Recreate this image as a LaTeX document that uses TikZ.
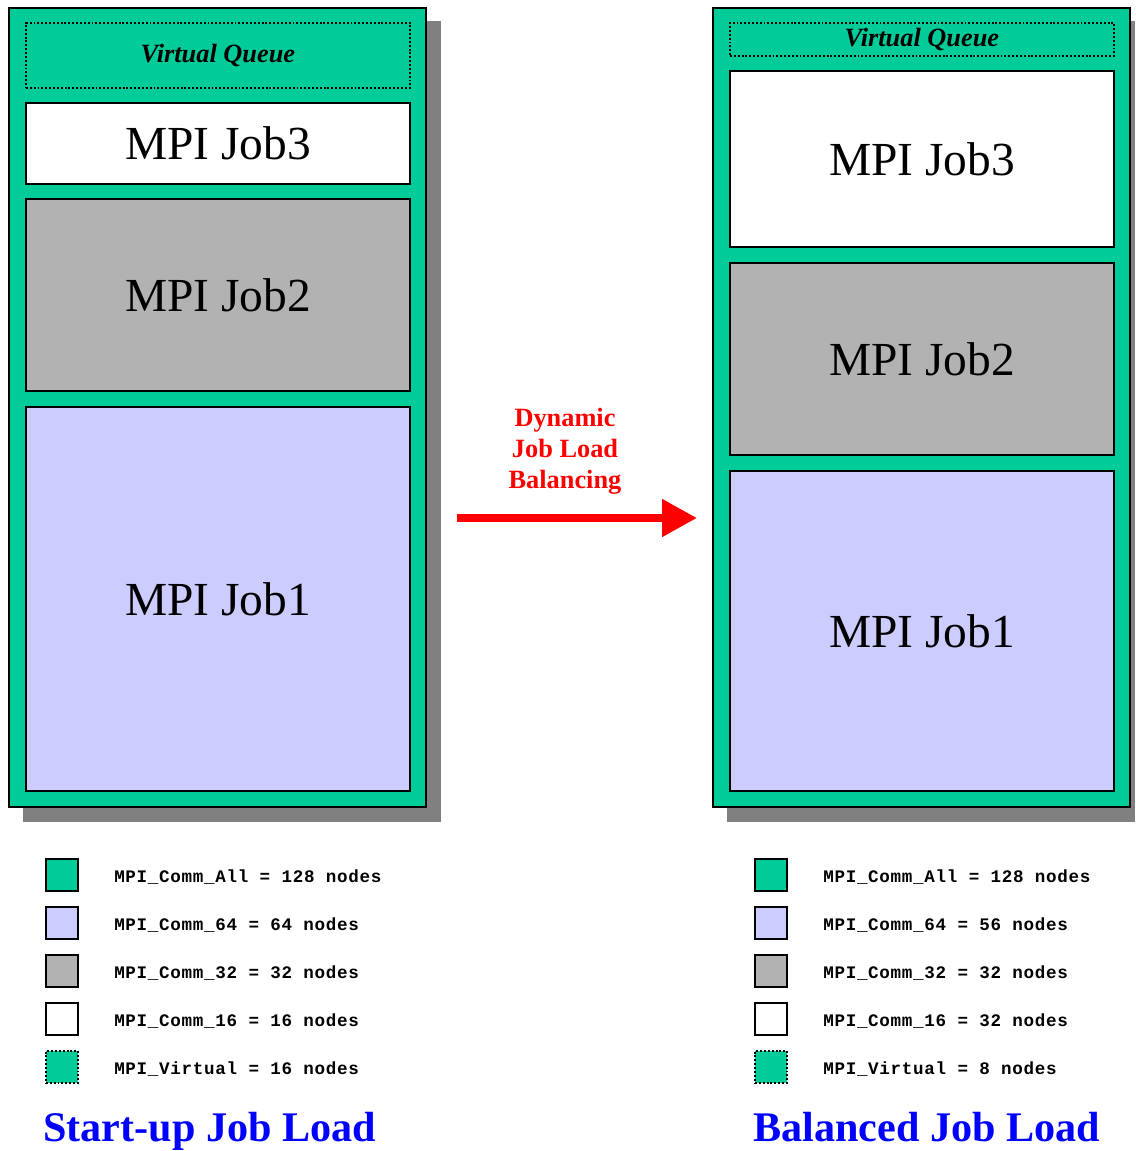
\documentclass[tikz,border=0pt]{standalone}
\usepackage{fontspec}
\setmainfont{Liberation Serif}
\newfontfamily\legendfont[LetterSpace=4]{Liberation Mono}
\usetikzlibrary{arrows.meta,positioning}
\definecolor{queuegreen}{RGB}{0,204,153}
\definecolor{jobgray}{RGB}{178,178,178}
\definecolor{joblilac}{RGB}{204,204,255}
\definecolor{shadowgray}{RGB}{128,128,128}

\begin{document}
\begin{tikzpicture}[x=0.02cm,y=-0.02cm,
		panel/.style={draw=black,line width=1.1pt,fill=queuegreen,anchor=north west,inner sep=0pt,minimum width=8.34cm,minimum height=15.98cm},
		jobbox/.style={draw=black,line width=1.1pt,anchor=north west,inner sep=0pt,minimum width=7.68cm,font=\fontsize{27}{30}\selectfont},
		vqbox/.style={draw=black,line width=1.1pt,dash pattern=on 1.1pt off 1.1pt,fill=queuegreen,anchor=north west,inner sep=0pt,minimum width=7.68cm,font=\fontsize{15}{17}\selectfont\bfseries\itshape},
		keybox/.style={draw=black,line width=1.1pt,anchor=north west,inner sep=0pt,minimum size=0.64cm},
		keytext/.style={anchor=west,inner sep=0pt,yshift=-0.05cm,font=\fontsize{10}{12}\selectfont\legendfont\bfseries},
		loadtitle/.style={anchor=base west,inner sep=0pt,text=blue,font=\fontsize{24}{28}\selectfont\bfseries}]
			\useasboundingbox (0,0) rectangle (1135,1151);
			% start-up job load
			\fill [shadowgray] (23,21) rectangle (441,822);
			\node [panel] (lpanel) at (8,7) {};
			\node [vqbox,minimum height=1.3cm] (lvq) at (25,22) {Virtual Queue};
			\node [jobbox,fill=white,minimum height=1.62cm] (ljob3) at (25,102) {MPI Job3};
			\node [jobbox,fill=jobgray,minimum height=3.84cm] (ljob2) at (25,198) {MPI Job2};
			\node [jobbox,fill=joblilac,minimum height=7.68cm] (ljob1) at (25,406) {MPI Job1};
			% balanced job load
			\fill [shadowgray] (727,21) rectangle (1135,822);
			\node [panel] (rpanel) at (712,7) {};
			\node [vqbox,minimum height=0.66cm] (rvq) at (729,22) {Virtual Queue};
			\node [jobbox,fill=white,minimum height=3.52cm] (rjob3) at (729,70) {MPI Job3};
			\node [jobbox,fill=jobgray,minimum height=3.84cm] (rjob2) at (729,262) {MPI Job2};
			\node [jobbox,fill=joblilac,minimum height=6.4cm] (rjob1) at (729,470) {MPI Job1};
			% balancing arrow
			\node [align=center,inner sep=0pt,text=red,font=\fontsize{15}{17.6}\selectfont\bfseries] (balance) at (565,451) {Dynamic\\Job Load\\Balancing};
			\coordinate (astart) at (457,518);
			\coordinate (aend) at (697,518);
			\draw [red,line width=4.5pt,-{Triangle[length=0.7cm,width=0.72cm]}] (astart) -- (aend);
			% legends
			\node [keybox,fill=queuegreen] (lkeyall) at (45,858) {};
			\node [keybox,fill=joblilac] (lkey64) at (45,906) {};
			\node [keybox,fill=jobgray] (lkey32) at (45,954) {};
			\node [keybox,fill=white] (lkey16) at (45,1002) {};
			\node [keybox,fill=queuegreen,dash pattern=on 1.1pt off 1.1pt] (lkeyvirt) at (45,1050) {};
			\node [keytext,right=0.7cm of lkeyall] (ltextall) {MPI\_Comm\_All = 128 nodes};
			\node [keytext,right=0.7cm of lkey64] (ltext64) {MPI\_Comm\_64 = 64 nodes};
			\node [keytext,right=0.7cm of lkey32] (ltext32) {MPI\_Comm\_32 = 32 nodes};
			\node [keytext,right=0.7cm of lkey16] (ltext16) {MPI\_Comm\_16 = 16 nodes};
			\node [keytext,right=0.7cm of lkeyvirt] (ltextvirt) {MPI\_Virtual = 16 nodes};
			\node [keybox,fill=queuegreen] (rkeyall) at (754,858) {};
			\node [keybox,fill=joblilac] (rkey64) at (754,906) {};
			\node [keybox,fill=jobgray] (rkey32) at (754,954) {};
			\node [keybox,fill=white] (rkey16) at (754,1002) {};
			\node [keybox,fill=queuegreen,dash pattern=on 1.1pt off 1.1pt] (rkeyvirt) at (754,1050) {};
			\node [keytext,right=0.7cm of rkeyall] (rtextall) {MPI\_Comm\_All = 128 nodes};
			\node [keytext,right=0.7cm of rkey64] (rtext64) {MPI\_Comm\_64 = 56 nodes};
			\node [keytext,right=0.7cm of rkey32] (rtext32) {MPI\_Comm\_32 = 32 nodes};
			\node [keytext,right=0.7cm of rkey16] (rtext16) {MPI\_Comm\_16 = 32 nodes};
			\node [keytext,right=0.7cm of rkeyvirt] (rtextvirt) {MPI\_Virtual = 8 nodes};
			% titles
			\node [loadtitle] (ltitle) at (43,1141) {Start-up Job Load};
			\node [loadtitle] (rtitle) at (753,1141) {Balanced Job Load};
		\end{tikzpicture}
\end{document}
